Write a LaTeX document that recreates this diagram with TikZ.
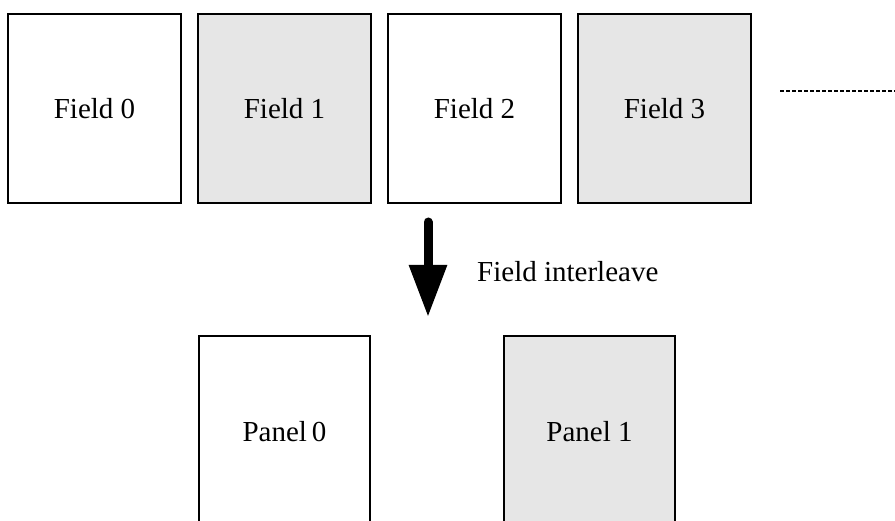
\documentclass[tikz,border=0pt]{standalone}
\usepackage{fontspec}
\setmainfont{Liberation Serif}
\usetikzlibrary{arrows.meta}
\definecolor{boxgray}{HTML}{E6E6E6}
\begin{document}
\begin{tikzpicture}[x=1pt,y=-1pt,
  fieldbox/.style={draw, line width=1.5pt, minimum width=173pt, minimum height=189pt, inner sep=0pt, font=\fontsize{29}{34}\selectfont},
  panelbox/.style={draw, line width=1.5pt, minimum width=171pt, minimum height=192pt, inner sep=0pt, font=\fontsize{29}{34}\selectfont},
  shaded/.style={fill=boxgray},
  lbl/.style={font=\fontsize{29}{34}\selectfont, inner sep=0pt}]
\clip (0,0) rectangle (895,521);
\useasboundingbox (0,0) rectangle (895,521);
\fill[white] (0,0) rectangle (895,521);
\node[fieldbox] (f0) at (94.5,108.5) {Field 0};
\node[fieldbox,shaded] (f1) at (284.5,108.5) {Field 1};
\node[fieldbox] (f2) at (474.5,108.5) {Field 2};
\node[fieldbox,shaded] (f3) at (664.5,108.5) {Field 3};
\coordinate (d0) at (780,91);
\coordinate (d1) at (897,91);
\draw[line width=1.5pt, dash pattern=on 4pt off 2pt] (d0) -- (d1);
\node[panelbox] (p0) at (284.5,432) {Panel\,0};
\node[panelbox,shaded] (p1) at (589.5,432) {Panel 1};
\coordinate (a0) at (428,222);
\coordinate (a1) at (428,317);
\draw[line width=9pt, line cap=round, -{Triangle[width=36pt,length=52pt]}] (a0) -- (a1);
\node[lbl, anchor=west] (il) at (477,272) {Field interleave};
\end{tikzpicture}
\end{document}
